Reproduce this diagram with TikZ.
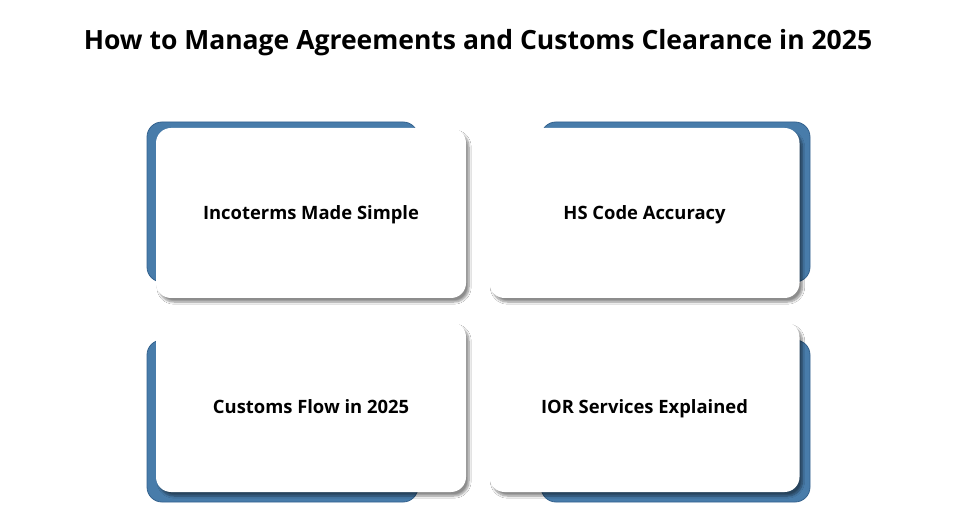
\documentclass[tikz,border=0pt]{standalone}
\usepackage{fontspec}
\setmainfont{Open Sans}
\usetikzlibrary{shadows.blur}
\definecolor{bluecard}{RGB}{72,124,170}
\definecolor{blueedge}{RGB}{52,98,142}
\tikzset{
  backbox/.style={fill=bluecard, draw=blueedge, line width=0.8pt, rounded corners=15pt},
  card/.style={fill=white, rounded corners=15pt, minimum width=310pt, minimum height=170pt,
    inner sep=0pt, font=\fontsize{18.4}{22}\selectfont\bfseries,
    blur shadow={shadow xshift=3pt, shadow yshift=-4pt, shadow blur steps=8, shadow blur extra rounding=2pt, shadow opacity=45}},
  cardtext/.style={font=\fontsize{18.4}{22}\selectfont\bfseries, anchor=base},
  titletext/.style={font=\fontsize{26.5}{32}\selectfont\bfseries}
}
\begin{document}
\begin{tikzpicture}[x=1pt,y=-1pt]
\useasboundingbox[fill=white] (0,0) rectangle (975,529);
\node[titletext] (title) at (478,43) {How to Manage Agreements and Customs Clearance in 2025};
% blue backs
\fill[backbox] (147,122) rectangle (418,282);
\fill[backbox] (541,122) rectangle (810,282);
\fill[backbox] (147,340) rectangle (418,502);
\fill[backbox] (541,340) rectangle (810,502);
% cards
\node[card] (c1) at (311,213) {};
\node[card] (c2) at (644.5,213) {};
\node[card] (c3) at (311,407) {};
\node[card] (c4) at (644.5,407) {};
\node[cardtext] (t1) at ([yshift=-6.5pt]c1.center) {Incoterms Made Simple};
\node[cardtext] (t2) at ([yshift=-6.5pt]c2.center) {HS Code Accuracy};
\node[cardtext] (t3) at ([yshift=-6.5pt]c3.center) {Customs Flow in 2025};
\node[cardtext] (t4) at ([yshift=-6.5pt]c4.center) {IOR Services Explained};
\end{tikzpicture}
\end{document}
